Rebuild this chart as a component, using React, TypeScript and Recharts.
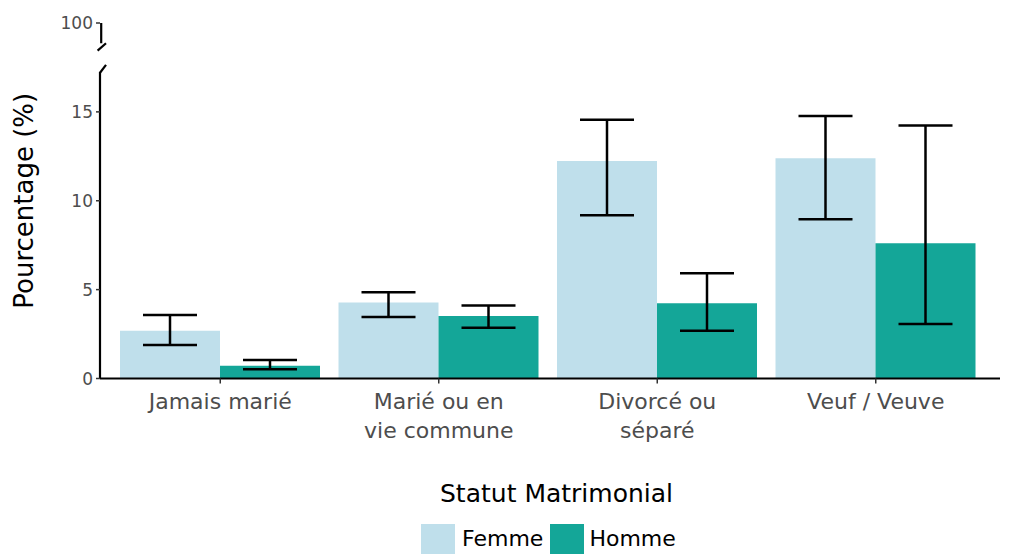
import React from 'react';
import { BarChart, Bar, XAxis, YAxis, ErrorBar, ReferenceLine, Legend } from 'recharts';

const categories = ['Jamais marié', 'Marié ou en vie commune', 'Divorcé ou séparé', 'Veuf / Veuve'];
const categoryLines = [['Jamais marié'], ['Marié ou en', 'vie commune'], ['Divorcé ou', 'séparé'], ['Veuf / Veuve']];
const femme = [2.69, 4.27, 12.24, 12.39];
const femmeLow = [1.88, 3.46, 9.18, 8.96];
const femmeHigh = [3.57, 4.85, 14.55, 14.77];
const homme = [0.72, 3.52, 4.23, 7.61];
const hommeLow = [0.52, 2.86, 2.69, 3.07];
const hommeHigh = [1.04, 4.10, 5.92, 14.23];
const yTicks = [0, 5, 10, 15, 20];
const yTickLabels = ['0', '5', '10', '15', '100'];

const FEMME_COLOR = '#bfdfeb';
const HOMME_COLOR = '#14a698';
const FONT = '"DejaVu Sans", sans-serif';

const data = categories.map((c, i) => ({
  cat: c,
  femme: femme[i],
  femmeErr: [femme[i] - femmeLow[i], femmeHigh[i] - femme[i]],
  homme: homme[i],
  hommeErr: [homme[i] - hommeLow[i], hommeHigh[i] - homme[i]],
}));

const XTick = (props: any) => {
  const { x, y, index } = props;
  const lines = categoryLines[index] || [];
  return (
    <text x={x} y={y} textAnchor="middle" fill="#4d4d4d" fontFamily={FONT} fontSize={22}>
      {lines.map((l: string, i: number) => (
        <tspan key={i} x={x} dy={i === 0 ? 23 : 29}>{l}</tspan>
      ))}
    </text>
  );
};

const LegendContent = () => (
  <div style={{ position: 'relative', width: 1018, height: 105, fontFamily: FONT, color: '#000' }}>
    <div style={{ position: 'absolute', left: 440, top: 30, height: 30, lineHeight: '30px', fontSize: 25, whiteSpace: 'nowrap' }}>
      Statut Matrimonial
    </div>
    <div style={{ position: 'absolute', left: 421, top: 75, height: 30, display: 'flex', alignItems: 'center', fontSize: 22, lineHeight: '30px' }}>
      <div style={{ width: 34, height: 30, background: FEMME_COLOR }} />
      <span style={{ marginLeft: 7, marginRight: 7 }}>Femme</span>
      <div style={{ width: 34, height: 30, background: HOMME_COLOR }} />
      <span style={{ marginLeft: 5 }}>Homme</span>
    </div>
  </div>
);

const axisSeg = { stroke: '#000', strokeWidth: 2.2, ifOverflow: 'visible' as const, xAxisId: 'brk' };

export default function App() {
  return (
    <div style={{ position: 'absolute', left: 0, top: 0, width: 1018, height: 554, background: '#fff' }}>
      <BarChart width={1018} height={554} data={data} margin={{ top: 23, right: 18, bottom: 0, left: 0 }} barGap={0}>
        <XAxis
          dataKey="cat"
          height={70.5}
          padding={{ left: 11, right: 15 }}
          axisLine={{ stroke: '#000', strokeWidth: 2.2 }}
          tickLine={{ stroke: '#333', strokeWidth: 1.5 }}
          tickSize={5}
          tick={<XTick />}
          interval={0}
        />
        <XAxis xAxisId="brk" type="number" domain={[0, 3]} allowDataOverflow hide />
        <YAxis
          width={100}
          domain={[0, 20]}
          ticks={yTicks}
          interval={0}
          axisLine={false}
          tickLine={{ stroke: '#333', strokeWidth: 1.5 }}
          tickSize={4}
          tickMargin={3}
          tickFormatter={(v: number) => yTickLabels[yTicks.indexOf(v)]}
          tick={{ fill: '#4d4d4d', fontSize: 17, fontFamily: FONT }}
          label={{
            value: 'Pourcentage (%)',
            angle: -90,
            position: 'insideLeft',
            offset: 24,
            style: { textAnchor: 'middle', fill: '#000', fontSize: 26, fontFamily: FONT },
          }}
        />
        <ReferenceLine {...axisSeg} segment={[{ x: 0, y: 0 }, { x: 0, y: 17.25 }]} />
        <ReferenceLine {...axisSeg} segment={[{ x: 0, y: 17.2 }, { x: 0.02, y: 17.64 }]} />
        <ReferenceLine {...axisSeg} segment={[{ x: 0.004, y: 20 }, { x: 0.004, y: 18.86 }]} />
        <ReferenceLine {...axisSeg} segment={[{ x: -0.008, y: 18.45 }, { x: 0.02, y: 18.86 }]} />
        <Bar dataKey="femme" fill={FEMME_COLOR} barSize={100} isAnimationActive={false}>
          <ErrorBar dataKey="femmeErr" width={27} stroke="#000" strokeWidth={2.5} isAnimationActive={false} />
        </Bar>
        <Bar dataKey="homme" fill={HOMME_COLOR} barSize={100} isAnimationActive={false}>
          <ErrorBar dataKey="hommeErr" width={27} stroke="#000" strokeWidth={2.5} isAnimationActive={false} />
        </Bar>
        <Legend verticalAlign="bottom" height={105} wrapperStyle={{ left: 0, width: 1018 }} content={<LegendContent />} />
      </BarChart>
    </div>
  );
}
